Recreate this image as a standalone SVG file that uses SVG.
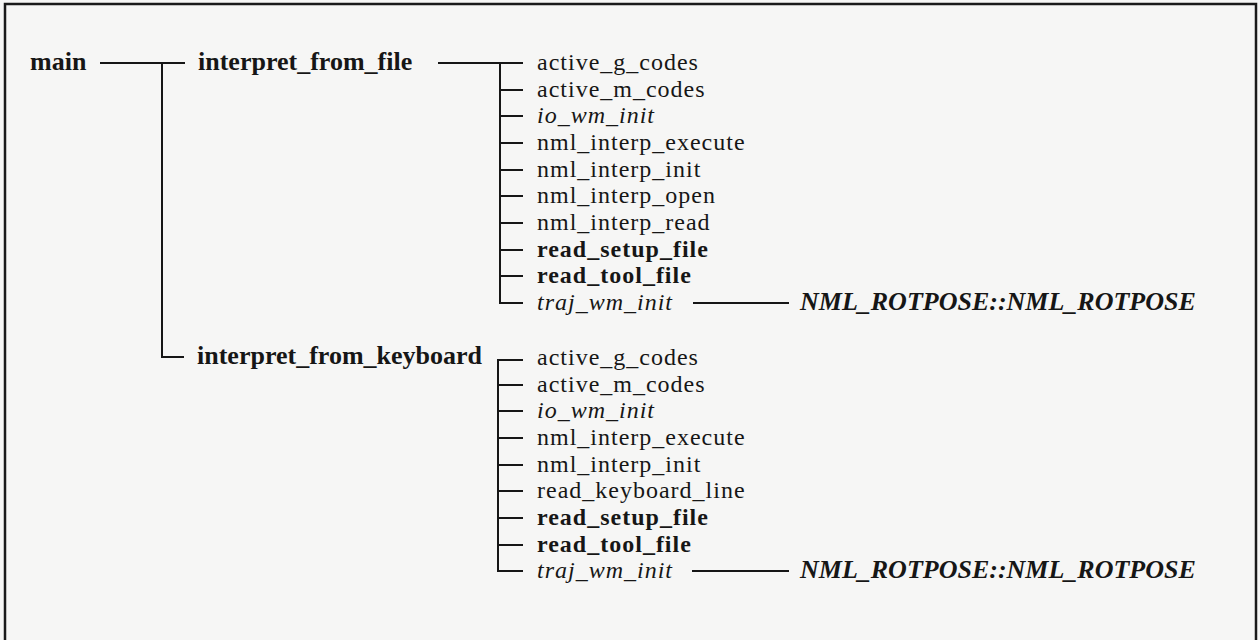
<svg xmlns="http://www.w3.org/2000/svg" width="1260" height="640" viewBox="0 0 1260 640">
<style>
text{font-family:"Liberation Serif","Times New Roman",serif;font-size:26px;fill:#161616}
.it{font-size:24px;letter-spacing:1px}
.b{font-weight:bold}
.i{font-style:italic}
.bi{font-weight:bold;font-style:italic}
.c line,.c path{stroke:#161616;stroke-width:2;fill:none}
</style>
<rect x="0" y="0" width="1260" height="640" fill="#f6f6f5"/>
<path d="M5,645 V4 H1256 V645" fill="none" stroke="#1a1a1a" stroke-width="2.5"/>
<g class="c" id="connectors">
<line x1="100" y1="63" x2="185" y2="63"/>
<path d="M162,63 V357 H184"/>
<line x1="438" y1="63" x2="523" y2="63"/>
<line x1="500" y1="63" x2="500" y2="303"/>
<line x1="500" y1="90" x2="523" y2="90"/>
<line x1="500" y1="116" x2="523" y2="116"/>
<line x1="500" y1="143" x2="523" y2="143"/>
<line x1="500" y1="170" x2="523" y2="170"/>
<line x1="500" y1="196" x2="523" y2="196"/>
<line x1="500" y1="223" x2="523" y2="223"/>
<line x1="500" y1="250" x2="523" y2="250"/>
<line x1="500" y1="276" x2="523" y2="276"/>
<line x1="499" y1="303" x2="523" y2="303"/>
<line x1="693" y1="303" x2="789" y2="303"/>
<path d="M523,360 H498 V571 H523"/>
<line x1="498" y1="385" x2="523" y2="385"/>
<line x1="498" y1="411" x2="523" y2="411"/>
<line x1="498" y1="438" x2="523" y2="438"/>
<line x1="498" y1="465" x2="523" y2="465"/>
<line x1="498" y1="491" x2="523" y2="491"/>
<line x1="498" y1="518" x2="523" y2="518"/>
<line x1="498" y1="545" x2="523" y2="545"/>
<line x1="692" y1="571" x2="789" y2="571"/>
</g>
<g id="main"><text class="b" x="30" y="70">main</text></g>
<g id="interpret_from_file"><text class="b" x="198" y="70">interpret_from_file</text></g>
<g id="f_active_g_codes"><text class="it" x="537" y="70">active_g_codes</text></g>
<g id="f_active_m_codes"><text class="it" x="537" y="97">active_m_codes</text></g>
<g id="f_io_wm_init"><text class="it i" x="537" y="123">io_wm_init</text></g>
<g id="f_nml_interp_execute"><text class="it" x="537" y="150">nml_interp_execute</text></g>
<g id="f_nml_interp_init"><text class="it" x="537" y="177">nml_interp_init</text></g>
<g id="f_nml_interp_open"><text class="it" x="537" y="203">nml_interp_open</text></g>
<g id="f_nml_interp_read"><text class="it" x="537" y="230">nml_interp_read</text></g>
<g id="f_read_setup_file"><text class="it b" x="537" y="257">read_setup_file</text></g>
<g id="f_read_tool_file"><text class="it b" x="537" y="283">read_tool_file</text></g>
<g id="f_traj_wm_init"><text class="it i" x="537" y="310">traj_wm_init</text></g>
<g id="f_nml_rotpose"><text class="bi" x="800" y="310">NML_ROTPOSE::NML_ROTPOSE</text></g>
<g id="interpret_from_keyboard"><text class="b" x="197" y="364">interpret_from_keyboard</text></g>
<g id="k_active_g_codes"><text class="it" x="537" y="365">active_g_codes</text></g>
<g id="k_active_m_codes"><text class="it" x="537" y="392">active_m_codes</text></g>
<g id="k_io_wm_init"><text class="it i" x="537" y="418">io_wm_init</text></g>
<g id="k_nml_interp_execute"><text class="it" x="537" y="445">nml_interp_execute</text></g>
<g id="k_nml_interp_init"><text class="it" x="537" y="472">nml_interp_init</text></g>
<g id="k_read_keyboard_line"><text class="it" x="537" y="498">read_keyboard_line</text></g>
<g id="k_read_setup_file"><text class="it b" x="537" y="525">read_setup_file</text></g>
<g id="k_read_tool_file"><text class="it b" x="537" y="552">read_tool_file</text></g>
<g id="k_traj_wm_init"><text class="it i" x="537" y="578">traj_wm_init</text></g>
<g id="k_nml_rotpose"><text class="bi" x="800" y="578">NML_ROTPOSE::NML_ROTPOSE</text></g>
</svg>
